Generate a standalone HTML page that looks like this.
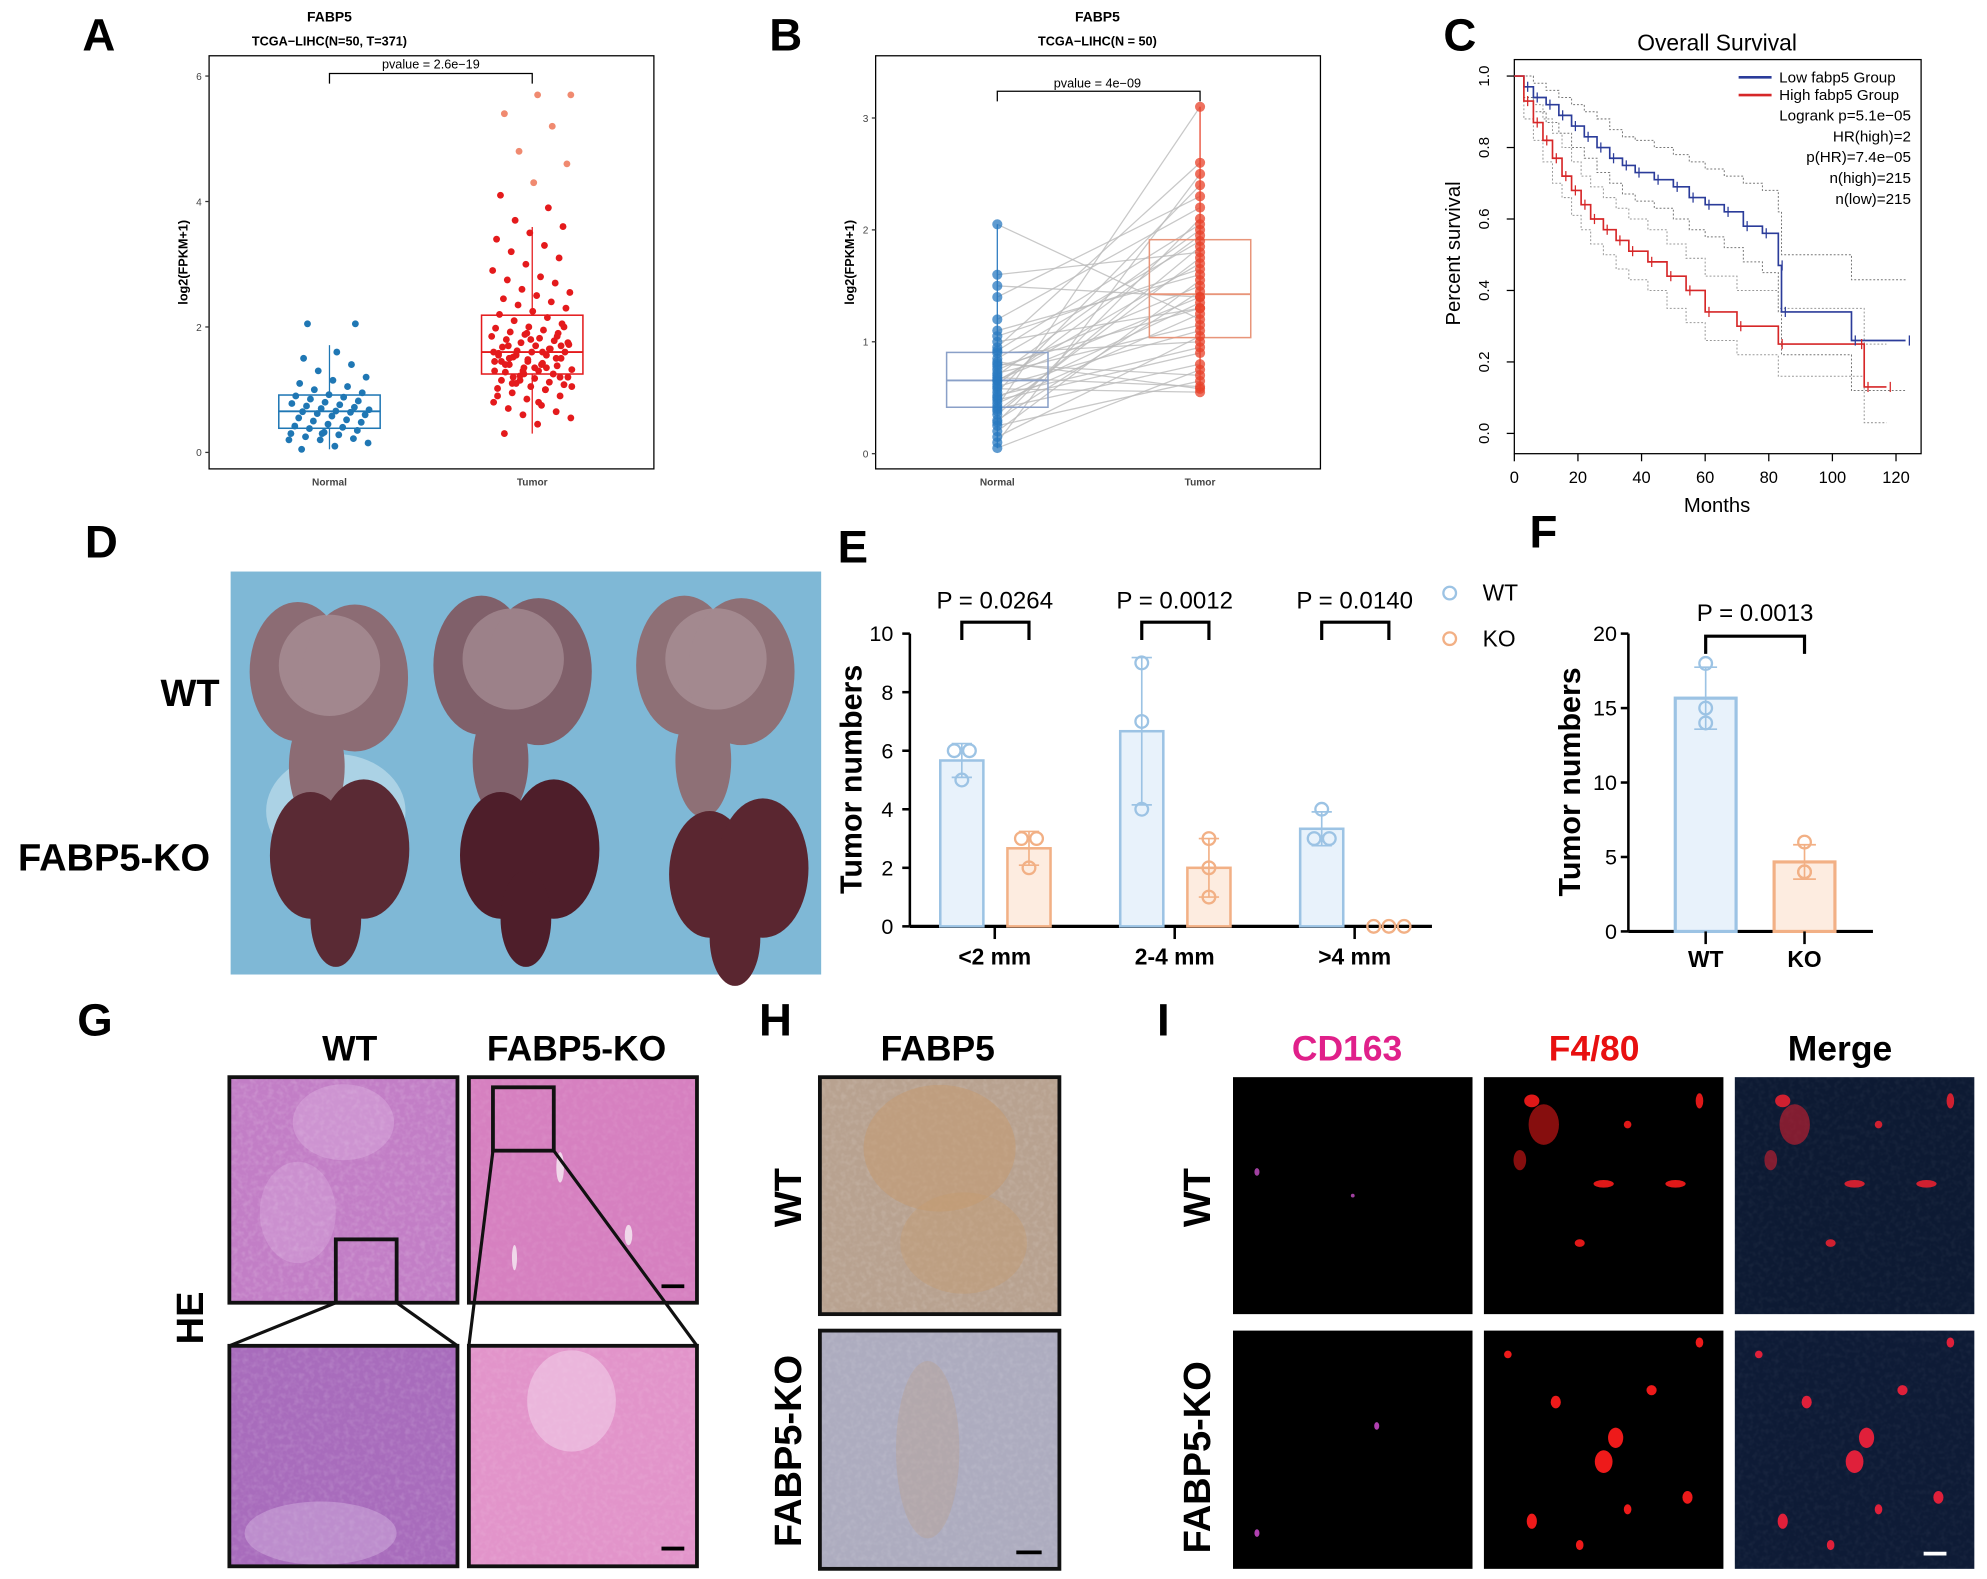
<!DOCTYPE html>
<html><head><meta charset="utf-8">
<style>
html,body{margin:0;padding:0;background:#fff;}
svg{display:block;font-family:"Liberation Sans",Arial,sans-serif;}
</style></head>
<body>
<svg id="fig" width="1987" height="1579" viewBox="0 0 1568 1246" xmlns="http://www.w3.org/2000/svg">
<defs>
<filter id="noise" x="0" y="0" width="100%" height="100%"><feTurbulence type="fractalNoise" baseFrequency="0.25" numOctaves="2" seed="3"/><feColorMatrix type="matrix" values="0 0 0 0 1  0 0 0 0 1  0 0 0 0 1  0 0 0 -2.2 1.3"/></filter>
</defs>
</svg>
<script>
// ---------- DATA ----------
const normalA=[0.05,0.1,0.15,0.2,0.22,0.25,0.28,0.3,0.32,0.35,0.38,0.4,0.42,0.45,0.48,0.5,0.52,0.55,0.58,0.6,0.62,0.64,0.65,0.66,0.68,0.7,0.72,0.74,0.76,0.78,0.8,0.82,0.85,0.88,0.9,0.92,0.95,1.0,1.05,1.1,1.15,1.2,1.3,1.4,1.5,1.6,0.2,0.3,2.05,2.05];
const tumorA=[0.3,0.45,0.55,0.6,0.65,0.7,0.75,0.8,0.85,0.9,0.95,1.0,1.02,1.05,1.08,1.1,1.12,1.15,1.18,1.2,1.22,1.25,1.28,1.3,1.32,1.35,1.38,1.4,1.42,1.45,1.48,1.5,1.52,1.55,1.58,1.6,1.6,1.62,1.65,1.68,1.7,1.72,1.75,1.78,1.8,1.82,1.85,1.88,1.9,1.92,1.95,1.98,2.0,2.05,2.1,2.15,2.2,2.25,2.3,2.35,2.4,2.45,2.5,2.55,2.6,2.7,2.75,2.8,2.9,3.0,3.1,3.2,3.3,3.4,3.5,3.6,3.7,3.9,4.1,4.3,4.6,4.8,5.2,5.4,5.7,5.7,1.3,1.5,1.7,1.4,1.6,1.9,1.2,1.1,1.0,0.9,1.8,2.0,1.55,1.65,1.45,1.35,1.75,1.15,1.25,1.4,0.8,1.05,1.25,1.85,1.5,1.6,1.3,1.45,1.7,1.2,1.35,1.55];
const pairNormal=[2.05,1.6,1.5,1.4,1.2,1.1,1.0,0.95,0.9,0.85,0.8,0.75,0.7,0.68,0.65,0.6,0.58,0.55,0.5,0.48,0.45,0.42,0.4,0.35,0.3,0.28,0.25,0.2,0.15,0.1,0.05,0.62,0.72,0.82,0.92,1.05,0.38,0.52,0.66,0.78];
const pairTumor=[1.2,1.8,1.4,2.3,2.2,1.6,1.3,2.6,1.0,1.9,0.7,1.5,2.0,0.6,1.7,1.1,0.55,2.4,1.35,0.9,1.25,3.1,0.8,1.85,1.45,2.1,0.65,1.55,1.05,2.5,0.75,1.95,1.15,0.58,2.05,1.65,1.75,0.95,1.4,1.3];
const lowT=[0,3,6,10,14,18,22,26,30,34,38,44,50,55,60,66,72,78,83,84,106,123];
const lowS=[1,0.97,0.94,0.92,0.89,0.86,0.83,0.8,0.77,0.75,0.73,0.71,0.69,0.66,0.64,0.62,0.58,0.56,0.47,0.34,0.26,0.26];
const lowU=[1,1,0.98,0.96,0.94,0.92,0.9,0.88,0.85,0.83,0.82,0.8,0.78,0.76,0.74,0.72,0.7,0.68,0.62,0.5,0.43,0.43];
const lowL=[1,0.94,0.9,0.87,0.84,0.8,0.77,0.73,0.7,0.67,0.65,0.63,0.6,0.57,0.55,0.52,0.48,0.45,0.34,0.22,0.12,0.12];
const highT=[0,3,6,9,12,15,18,21,24,28,32,36,42,48,54,60,70,83,108,110,117];
const highS=[1,0.93,0.87,0.82,0.77,0.72,0.68,0.64,0.6,0.57,0.54,0.51,0.48,0.44,0.4,0.34,0.3,0.25,0.25,0.13,0.13];
const highU=[1,0.97,0.92,0.88,0.84,0.8,0.76,0.72,0.69,0.66,0.63,0.6,0.57,0.53,0.49,0.44,0.4,0.35,0.35,0.25,0.25];
const highL=[1,0.88,0.82,0.76,0.7,0.66,0.61,0.57,0.53,0.5,0.46,0.43,0.4,0.35,0.31,0.26,0.22,0.16,0.16,0.03,0.03];
const eCats=["<2 mm","2-4 mm",">4 mm"];
const eWT=[[6,6,5],[9,7,4],[4,3,3]];
const eKO=[[3,3,2],[3,2,1],[0,0,0]];
const ePvals=["P = 0.0264","P = 0.0012","P = 0.0140"];
const eTicks=[0,2,4,6,8,10];
const fCats=["WT","KO"];
const fVals=[[18,15,14],[6,4,4]];
const fTicks=[0,5,10,15,20];

// ---------- HELPERS ----------
const svg=document.getElementById('fig');
const NS='http://www.w3.org/2000/svg';
function el(tag,attrs,parent){const e=document.createElementNS(NS,tag);for(const k in attrs)e.setAttribute(k,attrs[k]);(parent||svg).appendChild(e);return e;}
function txt(s,x,y,size,attrs,parent){const t=el('text',Object.assign({x:x,y:y,'font-size':size,'text-anchor':'middle'},attrs||{}),parent);t.textContent=s;return t;}
function mean(a){return a.reduce((p,c)=>p+c,0)/a.length;}
function sd(a){const m=mean(a);return Math.sqrt(a.reduce((p,c)=>p+(c-m)*(c-m),0)/(a.length-1));}
function q(a,p){const s=[...a].sort((x,y)=>x-y);const i=(s.length-1)*p;const lo=Math.floor(i);return s[lo]+(s[Math.ceil(i)]-s[lo])*(i-lo);}
function jit(i){return ((i*7919+13)%83)/83-0.5;}

[["A",78,40],["B",620,40],["C",1152,40],["D",80,440],["E",673,444],["F",1218,432],["G",75,817],["H",612,817],["I",918,817]].forEach(l=>{
 const t=txt(l[0],l[1],l[2],36,{'font-weight':'bold'});
 
 
});

// ---------- PANEL A ----------
(function(){
 const g=el('g',{});
 
 
 const y=v=>357-v*49.5;
 txt("FABP5",260,17,11,{'font-weight':'bold'},g);
 txt("TCGA−LIHC(N=50, T=371)",260,36,10,{'font-weight':'bold'},g);
 el('rect',{x:165,y:44,width:351,height:326,fill:'none',stroke:'#000','stroke-width':1},g);
 [0,2,4,6].forEach(v=>{el('line',{x1:162,x2:165,y1:y(v),y2:y(v),stroke:'#333'},g);txt(String(v),157,y(v)+3,8,{fill:'#444'},g);});
 txt("log2(FPKM+1)",0,0,10,{'font-weight':'bold',transform:'translate(148,207) rotate(-90)'},g);
 txt("Normal",260,383,8,{'font-weight':'bold',fill:'#444'},g);
 txt("Tumor",420,383,8,{'font-weight':'bold',fill:'#444'},g);
 el('path',{d:`M260 66 V58 H420 V66`,fill:'none',stroke:'#000'},g);
 txt("pvalue = 2.6e−19",340,54,10,{},g);
 function box(arr,cx,col,hi){
  const q1=q(arr,0.25),q3=q(arr,0.75),md=q(arr,0.5);
  el('line',{x1:cx,x2:cx,y1:y(Math.min(...arr)),y2:y(q1),stroke:col},g);
  el('line',{x1:cx,x2:cx,y1:y(q3),y2:y(Math.min(q3+1.5*(q3-q1),Math.max(...arr))),stroke:col},g);
  arr.forEach((v,i)=>{const c=el('circle',{cx:cx+jit(i)*64,cy:y(v),r:2.7,fill:(hi&&v>4.2)?'#f08a70':col},g);
   });
  el('rect',{x:cx-40,y:y(q3),width:80,height:y(q1)-y(q3),fill:'none',stroke:col,'stroke-width':1.2},g);
  el('line',{x1:cx-40,x2:cx+40,y1:y(md),y2:y(md),stroke:col,'stroke-width':1.5},g);
 }
 box(normalA,260,'#1f77b4',false);
 box(tumorA,420,'#e41a1c',true);
})();

// ---------- PANEL B ----------
(function(){
 const g=el('g',{});
 
 
 const y=v=>358-v*88.3;
 txt("FABP5",866,17,11,{'font-weight':'bold'},g);
 txt("TCGA−LIHC(N = 50)",866,36,10,{'font-weight':'bold'},g);
 el('rect',{x:691,y:44,width:351,height:326,fill:'none',stroke:'#000'},g);
 [0,1,2,3].forEach(v=>{el('line',{x1:688,x2:691,y1:y(v),y2:y(v),stroke:'#333'},g);txt(String(v),683,y(v)+3,8,{fill:'#444'},g);});
 txt("log2(FPKM+1)",0,0,10,{'font-weight':'bold',transform:'translate(674,207) rotate(-90)'},g);
 txt("Normal",787,383,8,{'font-weight':'bold',fill:'#444'},g);
 txt("Tumor",947,383,8,{'font-weight':'bold',fill:'#444'},g);
 pairNormal.forEach((v,i)=>{const l=el('line',{x1:787,y1:y(v),x2:947,y2:y(pairTumor[i]),stroke:'#bbb','stroke-width':1,opacity:0.8},g);
  });
 function box(arr,cx,col,pc){
  const q1=q(arr,0.25),q3=q(arr,0.75),md=q(arr,0.5);
  el('line',{x1:cx,x2:cx,y1:y(Math.min(...arr)),y2:y(Math.max(...arr)),stroke:pc,'stroke-width':1},g);
  el('rect',{x:cx-40,y:y(q3),width:80,height:y(q1)-y(q3),fill:'none',stroke:col,'stroke-width':1.2},g);
  el('line',{x1:cx-40,x2:cx+40,y1:y(md),y2:y(md),stroke:col,'stroke-width':1.5},g);
  arr.forEach(v=>{const c=el('circle',{cx:cx,cy:y(v),r:4,fill:pc,opacity:0.75},g);});
 }
 box(pairNormal,787,'#8aa0c8','#2a7ac0');
 box(pairTumor,947,'#e8957a','#e8422a');
 el('path',{d:`M787 80 V72 H947 V80`,fill:'none',stroke:'#000'},g);
 txt("pvalue = 4e−09",866,69,10,{},g);
})();

// ---------- PANEL C ----------
(function(){
 const g=el('g',{});
 
 
 const x=t=>1195+t*2.51, y=s=>342-s*282;
 txt("Overall Survival",1355,40,18,{},g);
 el('rect',{x:1195,y:47,width:321,height:311,fill:'none',stroke:'#000'},g);
 [0,0.2,0.4,0.6,0.8,1.0].forEach(v=>{el('line',{x1:1189,x2:1195,y1:y(v),y2:y(v),stroke:'#000'},g);
  txt(v.toFixed(1),0,0,12,{transform:`translate(1175,${y(v)}) rotate(-90)`},g);});
 [0,20,40,60,80,100,120].forEach(v=>{el('line',{x1:x(v),x2:x(v),y1:358,y2:364,stroke:'#000'},g);txt(String(v),x(v),381,13,{},g);});
 txt("Months",1355,404,16,{},g);
 txt("Percent survival",0,0,16,{transform:'translate(1152,200) rotate(-90)'},g);
 function step(T,S,col,w,dash,name){
  let d=`M${x(T[0])} ${y(S[0])}`;
  for(let i=1;i<T.length;i++){d+=` H${x(T[i])} V${y(S[i])}`;}
  const p=el('path',{d:d,fill:'none',stroke:col,'stroke-width':w,'stroke-dasharray':dash||'none'},g);
  
 }
 step(lowT,lowU,'#777',0.8,'1.5,1.5','low-ci-upper');step(lowT,lowL,'#777',0.8,'1.5,1.5','low-ci-lower');
 step(highT,highU,'#999',0.8,'1.5,1.5','high-ci-upper');step(highT,highL,'#999',0.8,'1.5,1.5','high-ci-lower');
 step(lowT,lowS,'#2b3c9a',1.3,null,'low-group-curve');
 step(highT,highS,'#d62728',1.3,null,'high-group-curve');
 lowT.forEach((t,i)=>{if(i>0)el('line',{x1:x(t)+3,x2:x(t)+3,y1:y(lowS[i])-4,y2:y(lowS[i])+4,stroke:'#2b3c9a'},g);});
 highT.forEach((t,i)=>{if(i>0)el('line',{x1:x(t)+3,x2:x(t)+3,y1:y(highS[i])-4,y2:y(highS[i])+4,stroke:'#d62728'},g);});
 el('line',{x1:1372,x2:1398,y1:61,y2:61,stroke:'#2b3c9a','stroke-width':2},g);
 txt("Low fabp5 Group",1404,65,12,{'text-anchor':'start'},g);
 el('line',{x1:1372,x2:1398,y1:75,y2:75,stroke:'#d62728','stroke-width':2},g);
 txt("High fabp5 Group",1404,79,12,{'text-anchor':'start'},g);
 ["Logrank p=5.1e−05","HR(high)=2","p(HR)=7.4e−05","n(high)=215","n(low)=215"].forEach((s,i)=>txt(s,1508,95+i*16.5,12,{'text-anchor':'end'},g));
})();

// ---------- PANEL D (photo) ----------
(function(){
 const g=el('g',{});
 
 
 el('rect',{x:182,y:451,width:466,height:318,fill:'#7fb8d6'},g);
 el('ellipse',{cx:265,cy:640,rx:55,ry:45,fill:'#c8e2ee',opacity:0.6},g);
 [[255,530,'#8c6c74'],[400,525,'#80606a'],[560,525,'#8e7076']].forEach(c=>{
  el('ellipse',{cx:c[0]-20,cy:c[1],rx:38,ry:55,fill:c[2]},g);
  el('ellipse',{cx:c[0]+25,cy:c[1]+5,rx:42,ry:58,fill:c[2]},g);
  el('ellipse',{cx:c[0]-5,cy:c[1]+75,rx:22,ry:45,fill:c[2]},g);
  el('ellipse',{cx:c[0]+5,cy:c[1]-5,rx:40,ry:40,fill:'#b8a2a8',opacity:0.5},g);
 });
 [[265,675,'#5a2a34'],[415,675,'#4e1e2a'],[580,690,'#5a2630']].forEach(c=>{
  el('ellipse',{cx:c[0]-20,cy:c[1],rx:32,ry:50,fill:c[2]},g);
  el('ellipse',{cx:c[0]+22,cy:c[1]-5,rx:36,ry:55,fill:c[2]},g);
  el('ellipse',{cx:c[0],cy:c[1]+50,rx:20,ry:38,fill:c[2]},g);
 });
 txt("WT",150,557,30,{'font-weight':'bold'},g);
 txt("FABP5-KO",90,687,30,{'font-weight':'bold'},g);
})();

// ---------- PANEL E ----------
(function(){
 const g=el('g',{});
 
 
 const y=v=>731-v*23.1;
 const gx=i=>785+i*142;
 el('line',{x1:718,x2:718,y1:y(10),y2:731,stroke:'#000','stroke-width':2},g);
 el('line',{x1:718,x2:1130,y1:731,y2:731,stroke:'#000','stroke-width':2.5},g);
 eTicks.forEach(v=>{el('line',{x1:712,x2:718,y1:y(v),y2:y(v),stroke:'#000','stroke-width':2},g);txt(String(v),705,y(v)+6,17,{'text-anchor':'end'},g);});
 txt("Tumor numbers",0,0,24,{'font-weight':'bold',transform:'translate(680,615) rotate(-90)'},g);
 function bar(vals,cx,col,fill,name){
  const m=mean(vals),s=sd(vals);
  if(m>0){const r=el('rect',{x:cx-17,y:y(m),width:34,height:731-y(m),fill:fill,stroke:col,'stroke-width':2},g);
   
   el('line',{x1:cx,x2:cx,y1:y(m+s),y2:y(Math.max(m-s,0)),stroke:col,'stroke-width':1.3},g);
   el('line',{x1:cx-8,x2:cx+8,y1:y(m+s),y2:y(m+s),stroke:col,'stroke-width':1.3},g);
   el('line',{x1:cx-8,x2:cx+8,y1:y(m-s),y2:y(m-s),stroke:col,'stroke-width':1.3},g);}
  vals.forEach((v,i)=>{const dup=vals.slice(0,i).filter(w=>w===v).length;const cnt=vals.filter(w=>w===v).length;
   const c=el('circle',{cx:cx+(cnt>1?(dup-(cnt-1)/2)*12:0),cy:y(v),r:5,fill:'none',stroke:col,'stroke-width':1.8},g);
   });
 }
 eCats.forEach((c,i)=>{
  bar(eWT[i],gx(i)-26,'#9cc3e4','#e8f2fb','bar-wt-'+i);
  bar(eKO[i],gx(i)+27,'#f2b085','#fdece0','bar-ko-'+i);
  el('line',{x1:gx(i),x2:gx(i),y1:731,y2:741,stroke:'#000','stroke-width':2},g);
  txt(c,gx(i),761,18,{'font-weight':'bold'},g);
  el('path',{d:`M${gx(i)-26} 505 V491 H${gx(i)+27} V505`,fill:'none',stroke:'#000','stroke-width':2.5},g);
  txt(ePvals[i],gx(i),480,19,{},g);
 });
 el('circle',{cx:1144,cy:468,r:5,fill:'none',stroke:'#9cc3e4','stroke-width':1.8},g);
 txt("WT",1170,474,18,{'text-anchor':'start'},g);
 el('circle',{cx:1144,cy:504,r:5,fill:'none',stroke:'#f2b085','stroke-width':1.8},g);
 txt("KO",1170,510,18,{'text-anchor':'start'},g);
})();

// ---------- PANEL F ----------
(function(){
 const g=el('g',{});
 
 
 const y=v=>735-v*11.75;
 const cx=i=>1346+i*78;
 el('line',{x1:1285,x2:1285,y1:y(20),y2:735,stroke:'#000','stroke-width':2},g);
 el('line',{x1:1285,x2:1478,y1:735,y2:735,stroke:'#000','stroke-width':2.5},g);
 fTicks.forEach(v=>{el('line',{x1:1279,x2:1285,y1:y(v),y2:y(v),stroke:'#000','stroke-width':2},g);txt(String(v),1276,y(v)+6,17,{'text-anchor':'end'},g);});
 txt("Tumor numbers",0,0,24,{'font-weight':'bold',transform:'translate(1247,617) rotate(-90)'},g);
 const cols=[['#9cc3e4','#e8f2fb'],['#f2b085','#fdece0']];
 fCats.forEach((c,i)=>{
  const vals=fVals[i],m=mean(vals),s=sd(vals),x=cx(i),col=cols[i][0];
  const r=el('rect',{x:x-24,y:y(m),width:48,height:735-y(m),fill:cols[i][1],stroke:col,'stroke-width':2.5},g);
  
  el('line',{x1:x,x2:x,y1:y(m+s),y2:y(m-s),stroke:col,'stroke-width':1.3},g);
  el('line',{x1:x-9,x2:x+9,y1:y(m+s),y2:y(m+s),stroke:col,'stroke-width':1.3},g);
  el('line',{x1:x-9,x2:x+9,y1:y(m-s),y2:y(m-s),stroke:col,'stroke-width':1.3},g);
  vals.forEach(v=>{const p=el('circle',{cx:x,cy:y(v),r:5,fill:'none',stroke:col,'stroke-width':1.8},g);});
  el('line',{x1:x,x2:x,y1:735,y2:745,stroke:'#000','stroke-width':2},g);
  txt(c,x,763,18,{'font-weight':'bold'},g);
 });
 el('path',{d:`M1346 516 V502 H1424 V516`,fill:'none',stroke:'#000','stroke-width':2.5},g);
 txt("P = 0.0013",1385,490,19,{},g);
})();

// ---------- PANELS G/H/I images ----------
function tile(x,y,w,h,base,name,spots,spotCol,border,noiseOp){
 const g=el('g',{});
 
 
 el('rect',{x:x,y:y,width:w,height:h,fill:base},g);
 if(noiseOp)el('rect',{x:x,y:y,width:w,height:h,fill:'#fff',filter:'url(#noise)',opacity:noiseOp},g);
 (spots||[]).forEach(s=>el('ellipse',{cx:x+s[0]*w,cy:y+s[1]*h,rx:s[2],ry:s[3],fill:spotCol,opacity:s[4]||1},g));
 if(border)el('rect',{x:x,y:y,width:w,height:h,fill:'none',stroke:'#111','stroke-width':3},g);
 return g;
}
txt("WT",276,837,28,{'font-weight':'bold'});
txt("FABP5-KO",455,837,28,{'font-weight':'bold'});
txt("HE",0,0,30,{'font-weight':'bold',transform:'translate(160,1040) rotate(-90)'});
tile(181,850,180,178,'#c27ec6','he-wt-low',[[0.5,0.2,40,30,0.3],[0.3,0.6,30,40,0.25]],'#e8c8ea',true,0.15);
tile(370,850,180,178,'#d680c0','he-ko-low',[[0.4,0.4,3,12],[0.7,0.7,3,8],[0.2,0.8,2,10]],'#f0d8ea',true,0.08);
tile(181,1062,180,174,'#a86cbc','he-wt-high',[[0.4,0.85,60,25,0.4]],'#dcc0e6',true,0.12);
tile(370,1062,180,174,'#e294ca','he-ko-high',[[0.45,0.25,35,40,0.5]],'#f4d8ee',true,0.1);
el('rect',{x:265,y:978,width:48,height:50,fill:'none',stroke:'#111','stroke-width':3});
el('rect',{x:389,y:858,width:48,height:50,fill:'none',stroke:'#111','stroke-width':3});
el('path',{d:'M265 1028 L181 1062 M313 1028 L361 1062 M389 908 L370 1062 M437 908 L550 1062',stroke:'#111','stroke-width':2.5,fill:'none'});
el('line',{x1:522,x2:540,y1:1015,y2:1015,stroke:'#000','stroke-width':3});
el('line',{x1:522,x2:540,y1:1222,y2:1222,stroke:'#000','stroke-width':3});
txt("FABP5",740,837,28,{'font-weight':'bold'});
txt("WT",0,0,30,{'font-weight':'bold',transform:'translate(632,945) rotate(-90)'});
txt("FABP5-KO",0,0,30,{'font-weight':'bold',transform:'translate(632,1145) rotate(-90)'});
tile(647,850,189,187,'#b8a290','ihc-wt',[[0.5,0.3,60,50,0.5],[0.6,0.7,50,40,0.4]],'#c69a6e',true,0.12);
tile(647,1050,189,188,'#adacbf','ihc-ko',[[0.45,0.5,25,70,0.3]],'#c0a080',true,0.1);
el('line',{x1:802,x2:822,y1:1225,y2:1225,stroke:'#000','stroke-width':3});
txt("CD163",1063,837,28,{'font-weight':'bold',fill:'#e0208a'});
txt("F4/80",1258,837,28,{'font-weight':'bold',fill:'#e81010'});
txt("Merge",1452,837,28,{'font-weight':'bold'});
txt("WT",0,0,30,{'font-weight':'bold',transform:'translate(955,945) rotate(-90)'});
txt("FABP5-KO",0,0,30,{'font-weight':'bold',transform:'translate(955,1150) rotate(-90)'});
const redWT=[[0.25,0.2,12,16,0.6],[0.2,0.1,6,5],[0.15,0.35,5,8,0.6],[0.5,0.45,8,3],[0.8,0.45,8,3],[0.4,0.7,4,3],[0.9,0.1,3,6],[0.6,0.2,3,3]];
const redKO=[[0.55,0.45,6,8],[0.5,0.55,7,9],[0.3,0.3,4,5],[0.7,0.25,4,4],[0.2,0.8,4,6],[0.85,0.7,4,5],[0.4,0.9,3,4],[0.6,0.75,3,4],[0.1,0.1,3,3],[0.9,0.05,3,4]];
tile(973,850,189,187,'#000','if-cd163-wt',[[0.1,0.4,2,3],[0.5,0.5,1.5,1.5]],'#a040a0',false,0);
tile(1171,850,189,187,'#000','if-f480-wt',redWT,'#e01818',false,0);
tile(1369,850,189,187,'#0d1a33','if-merge-wt',redWT,'#d02030',false,0.04);
tile(973,1050,189,188,'#000','if-cd163-ko',[[0.6,0.4,2,3],[0.1,0.85,2,3]],'#b040b0',false,0);
tile(1171,1050,189,188,'#000','if-f480-ko',redKO,'#ee1a1a',false,0);
tile(1369,1050,189,188,'#0e1b36','if-merge-ko',redKO,'#e0203a',false,0.04);
el('line',{x1:1518,x2:1536,y1:1226,y2:1226,stroke:'#fff','stroke-width':3});
</script>
</body></html>
